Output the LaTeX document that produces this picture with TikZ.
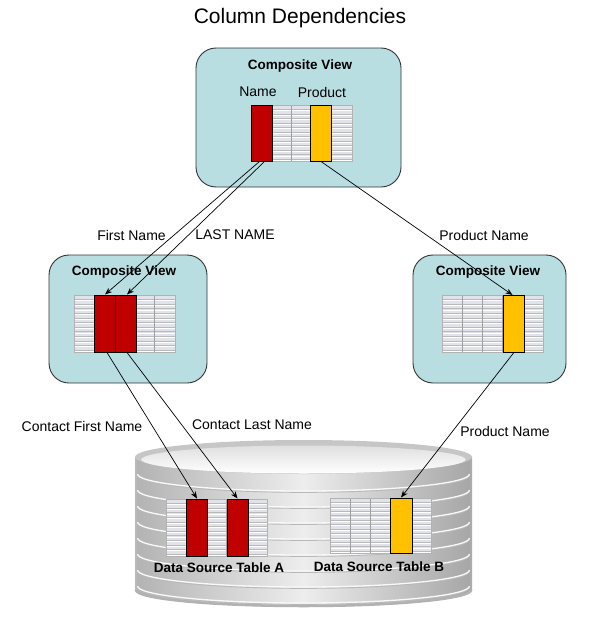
\documentclass[tikz,border=0pt]{standalone}
\usepackage{fontspec}
\setmainfont{Liberation Sans}
\usetikzlibrary{arrows.meta,calc}
\definecolor{cvfill}{RGB}{185,222,226}
\definecolor{cred}{RGB}{192,0,0}
\definecolor{cyel}{RGB}{255,192,0}
\definecolor{cell}{RGB}{226,226,234}
\tikzset{
  viewbox/.style={draw=black!80, line width=0.9pt, fill=cvfill, rounded corners=20pt, inner sep=0pt},
  colbox/.style={draw=black, line width=1pt, inner sep=0pt, minimum width=21pt, minimum height=57pt},
  redcol/.style={colbox, fill=cred},
  yelcol/.style={colbox, fill=cyel},
  lbl/.style={font=\fontsize{14}{16}\selectfont, inner sep=0pt},
  ttl/.style={font=\bfseries\fontsize{13.5}{16}\selectfont, inner sep=0pt},
  dep/.style={draw=black, line width=0.7pt, -{Stealth[length=7pt,width=5.5pt]}},
  cylbody/.style={left color=gray!60, right color=gray!70, middle color=gray!14},
}
\newcommand{\gtable}[4]{%
  \fill[cell] (#1,#2) rectangle (#3,#4);
  \foreach \k in {1,...,12}{
    \pgfmathsetmacro{\yy}{#2+\k*(#4-#2)/12.4}
    \draw[gray!55, line width=0.6pt] (#1,\yy) -- (#3,\yy);
    \draw[white, line width=0.9pt] (#1,\yy+1.3) -- (#3,\yy+1.3);
  }
  \foreach \k in {1,...,4}{
    \pgfmathsetmacro{\xx}{#1+\k*(#3-#1)/5}
    \draw[gray!75, line width=1pt] (\xx,#2) -- (\xx,#4);
  }
  \draw[gray!60, line width=0.8pt] (#1,#2) rectangle (#3,#4);
}
\begin{document}
\begin{tikzpicture}[x=1pt,y=-1pt]
\useasboundingbox (0,0) rectangle (598,621);

% title
\node[font=\fontsize{21}{24}\selectfont, inner sep=0pt] (title) at (300,18) {Column Dependencies};

% top composite view
\node[viewbox, minimum width=205pt, minimum height=139pt] (topview) at (298.5,117.5) {};
\node[ttl] (toptitle) at (300,66) {Composite View};
\node[lbl] (lname) at (258,92) {Name};
\node[lbl] (lprod) at (322,92) {Product};
\gtable{251}{105}{352}{161}
\node[redcol, minimum height=56pt] (topred) at (261.5,133) {};
\node[yelcol, minimum height=56pt] (topyel) at (321,133) {};

% middle left view
\node[viewbox, minimum width=158pt, minimum height=128pt] (mlview) at (128,319) {};
\node[ttl] (mltitle) at (124,272) {Composite View};
\gtable{74}{295}{175}{352}
\node[redcol] (mlred1) at (105,323.5) {};
\node[redcol] (mlred2) at (126,323.5) {};

% middle right view
\node[viewbox, minimum width=153pt, minimum height=128pt] (mrview) at (489.5,319) {};
\node[ttl] (mrtitle) at (488,272) {Composite View};
\gtable{442}{295}{543}{352}
\node[yelcol] (mryel) at (513.5,324) {};

% cylinder
\shade[cylbody] (135,457) rectangle (472,590);
\shade[cylbody] (303.5,590) ellipse [x radius=168.5, y radius=17];
\foreach \yc in {474,490,506,522,538,554,570,586}{
  \begin{scope}
    \clip (133,\yc) rectangle (474,\yc+20);
    \draw[gray!55, line width=1pt] (303.5,\yc+1.3) ellipse [x radius=166, y radius=17];
    \draw[white!95!gray, line width=1.3pt] (303.5,\yc) ellipse [x radius=166, y radius=17];
  \end{scope}
}
\draw[gray!55, line width=2.5pt] (136,457) -- (136,590);
\draw[gray!65, line width=2.5pt] (471,457) -- (471,590);
\begin{scope}
  \clip (130,590) rectangle (480,612);
  \draw[gray!60, line width=2.5pt] (303.5,590) ellipse [x radius=167.5, y radius=16];
\end{scope}
\fill[gray!45] (303.5,457) ellipse [x radius=168.5, y radius=17];
\shade[top color=gray!25, bottom color=white] (303.5,459.5) ellipse [x radius=162, y radius=14];

% data source tables
\gtable{166}{499}{267}{556}
\node[redcol] (A1) at (197,527.5) {};
\node[redcol] (A2) at (237.5,527.5) {};
\node[ttl] (tA) at (219,568) {Data Source Table A};
\gtable{330}{498}{431}{553}
\node[yelcol, minimum width=22pt, minimum height=55pt] (B) at (401,525.5) {};
\node[ttl] (tB) at (379,567) {Data Source Table B};

% labels
\node[lbl] (l1) at (131.5,235) {First Name};
\node[lbl] (l2) at (235,235) {LAST NAME};
\node[lbl] (l3) at (484,235) {Product Name};
\node[lbl] (l4) at (82,426) {Contact First Name};
\node[lbl] (l5) at (252,425) {Contact Last Name};
\node[lbl] (l6) at (505,431) {Product Name};

% dependencies
\draw[dep] ([xshift=-2pt]topred.south) -- (mlred1.north);
\draw[dep] ([xshift=3pt]topred.south) -- ([xshift=1pt]mlred2.north);
\draw[dep] (topyel.south) -- ([xshift=-1pt]mryel.north);
\draw[dep] ([xshift=2pt]mlred1.south) -- (A1.north);
\draw[dep] ([xshift=1pt]mlred2.south) -- (A2.north);
\draw[dep] (mryel.south) -- (B.north);
\end{tikzpicture}
\end{document}
